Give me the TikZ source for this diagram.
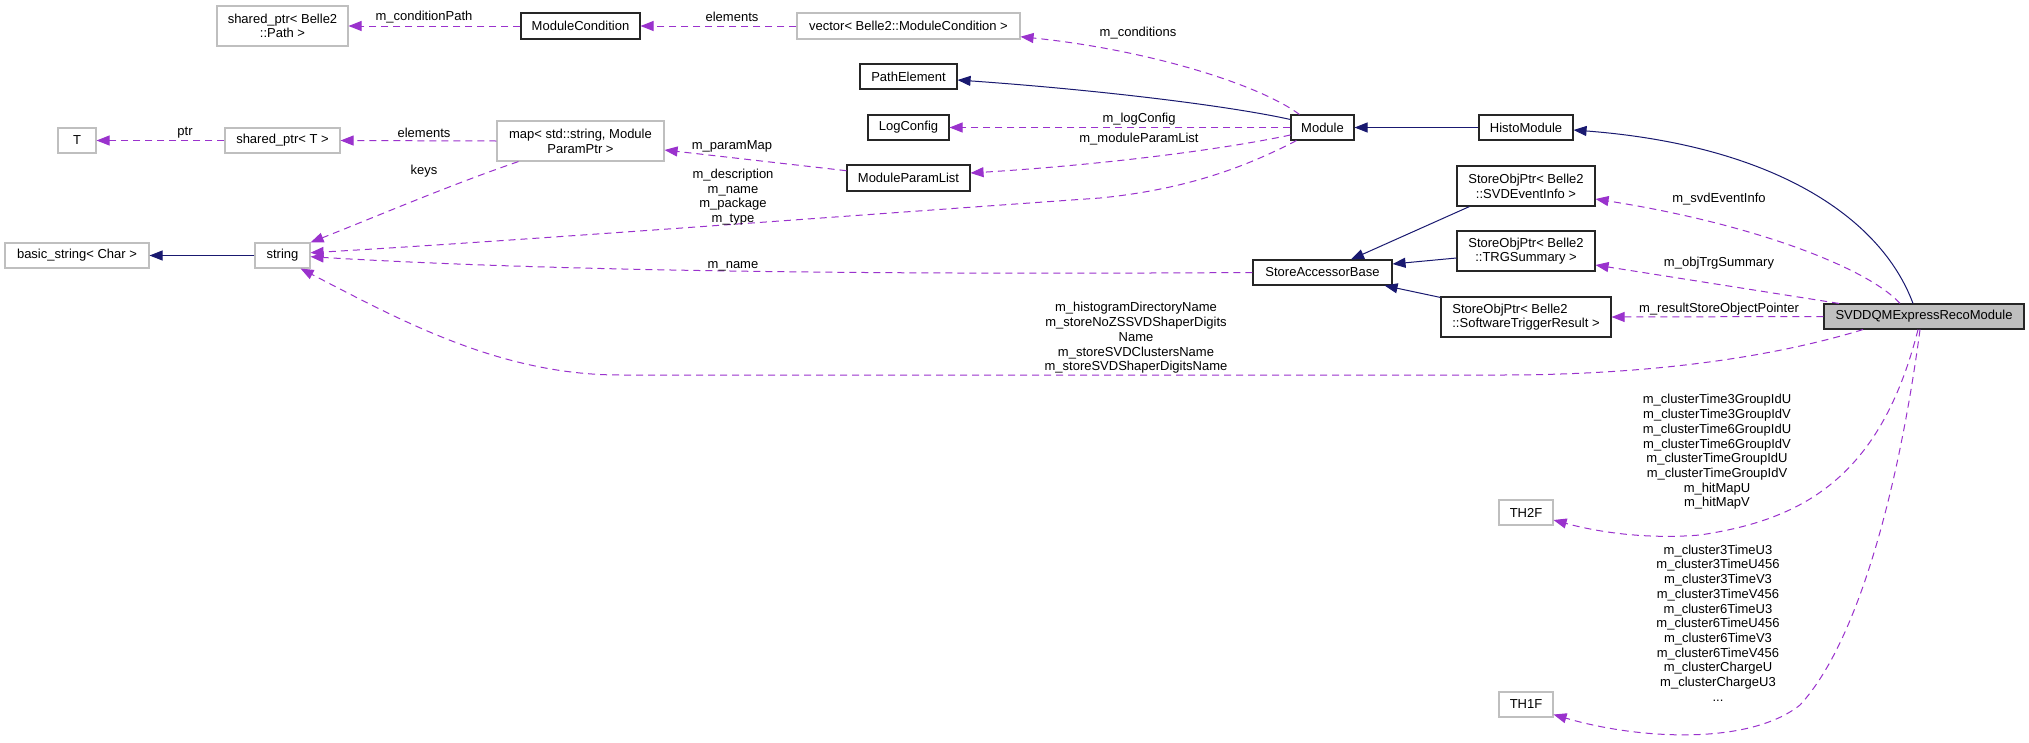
\documentclass[tikz,border=0pt]{standalone}
\usepackage{fontspec}
\setmainfont{Liberation Sans}
\usetikzlibrary{arrows.meta}
\definecolor{depcol}{HTML}{9A32CD}
\definecolor{inhcol}{HTML}{191970}
\definecolor{graycol}{HTML}{BFBFBF}
\newcommand{\dgfont}{\fontsize{13}{14.7}\selectfont}
\begin{document}
\begin{tikzpicture}[x=1pt,y=-1pt,
  box/.style={draw, line width=1.1pt, fill=white, inner sep=0pt, align=center, font=\dgfont},
  extbox/.style={box, draw=graycol},
  clsbox/.style={box, draw=black!85},
  lbl/.style={inner sep=0pt, align=center, font=\dgfont},
  dep/.style={draw=depcol, line width=1pt, dash pattern=on 7pt off 5pt, -{Triangle[length=13pt,width=10pt]}},
  inh/.style={draw=inhcol, line width=1pt, -{Triangle[length=13pt,width=10pt]}}]
\fill[white] (0,0) rectangle (2029,742);
\useasboundingbox (0,0) rectangle (2029,742);

% nodes
\node[extbox, minimum width=131pt, minimum height=40pt] (pathB) at (282.5,26) {shared\_ptr< Belle2\\::Path >};
\node[clsbox, minimum width=119pt, minimum height=26pt] (modcond) at (580.5,26) {ModuleCondition};
\node[extbox, minimum width=223pt, minimum height=26pt] (vec) at (908.5,26) {vector< Belle2::ModuleCondition >};
\node[extbox, minimum width=38pt, minimum height=25pt] (T) at (77,140.5) {T};
\node[extbox, minimum width=115pt, minimum height=25pt] (sptrT) at (282.5,140.5) {shared\_ptr< T >};
\node[extbox, minimum width=167pt, minimum height=40pt] (map) at (580.5,141) {map< std::string, Module\\ParamPtr >};
\node[extbox, minimum width=144pt, minimum height=25pt] (basic) at (77,255.5) {basic\_string< Char >};
\node[extbox, minimum width=55pt, minimum height=25pt] (string) at (282.5,255.5) {string};
\node[clsbox, minimum width=97pt, minimum height=25pt] (pathel) at (908.5,76.5) {PathElement};
\node[clsbox, minimum width=81pt, minimum height=25pt] (logcfg) at (908.5,127.5) {LogConfig};
\node[clsbox, minimum width=123pt, minimum height=26pt] (mpl) at (908.5,178) {ModuleParamList};
\node[clsbox, minimum width=63pt, minimum height=25pt] (module) at (1322.5,127.5) {Module};
\node[clsbox, minimum width=139pt, minimum height=25pt] (sab) at (1322.5,272.5) {StoreAccessorBase};
\node[clsbox, minimum width=94pt, minimum height=25pt] (histo) at (1526,127.5) {HistoModule};
\node[clsbox, minimum width=138pt, minimum height=40pt] (svdev) at (1526,186) {StoreObjPtr< Belle2\\::SVDEventInfo >};
\node[clsbox, minimum width=138pt, minimum height=40pt] (trg) at (1526,251) {StoreObjPtr< Belle2\\::TRGSummary >};
\node[clsbox, minimum width=170pt, minimum height=40pt, align=left] (swtr) at (1526,317) {StoreObjPtr< Belle2\\::SoftwareTriggerResult >};
\node[box, draw=black!85, fill=graycol, minimum width=200pt, minimum height=25pt] (svddqm) at (1924,316.5) {SVDDQMExpressRecoModule};
\node[extbox, minimum width=54pt, minimum height=25pt] (th2f) at (1526,512.5) {TH2F};
\node[extbox, minimum width=54pt, minimum height=25pt] (th1f) at (1526,704.5) {TH1F};

% connectors
\draw[dep] (modcond.west) -- (pathB.east);
\draw[dep] (vec.west) -- (modcond.east);
\draw[dep] ([xshift=9pt]module.north west) .. controls (1260,85) and (1150,50) .. ([yshift=-10.7pt]vec.east);
\draw[inh] ([yshift=8pt]module.west) .. controls (1230,106) and (1100,90) .. ([yshift=-3.5pt]pathel.east);
\draw[dep] (module.west) -- (logcfg.east);
\draw[dep] ([yshift=-7.5pt]module.west) .. controls (1220,150) and (1100,165) .. ([yshift=5pt]mpl.east);
\draw[dep] ([yshift=7.3pt]mpl.west) -- ([yshift=-9pt]map.east);
\draw[dep] (map.west) -- (sptrT.east);
\draw[dep] (sptrT.west) -- (T.east);
\draw[dep] ([xshift=22pt]map.south west) .. controls (450,185) and (380,215) .. (string.north east);
\draw[dep] ([xshift=6pt]module.south west) .. controls (1240,170) and (1180,190) .. (1100,198) .. controls (900,212) and (500,242) .. ([yshift=2.8pt]string.east);
\draw[dep] (sab.west) .. controls (700,276) and (450,265) .. ([yshift=-1.2pt]string.east);
\draw[inh] (string.west) -- (basic.east);
\draw[dep] ([xshift=-61pt]svddqm.south) .. controls (1780,355) and (1660,375) .. (1500,375) -- (620,375) .. controls (500,375) and (400,320) .. ([xshift=-10pt]string.south east);
\draw[inh] (histo.west) -- (module.east);
\draw[inh] ([xshift=-11pt]svddqm.north) .. controls (1880,215) and (1770,145) .. ([yshift=-2.5pt]histo.east);
\draw[inh] ([xshift=13pt]svdev.south west) -- ([xshift=28.5pt]sab.north);
\draw[inh] ([yshift=-7pt]trg.west) -- ([yshift=8.5pt]sab.east);
\draw[inh] ([yshift=-1pt]swtr.north west) -- ([xshift=-8pt]sab.south east);
\draw[dep] ([xshift=-24pt]svddqm.north) .. controls (1870,270) and (1760,225) .. ([yshift=-13pt]svdev.east);
\draw[dep] ([xshift=-85pt]svddqm.north) -- ([yshift=-14pt]trg.east);
\draw[dep] (svddqm.west) -- (swtr.east);
\draw[dep] ([xshift=-6pt]svddqm.south) .. controls (1880,480) and (1800,520) .. (1700,535) .. controls (1640,540) and (1590,530) .. ([yshift=-7.5pt]th2f.east);
\draw[dep] ([xshift=-4pt]svddqm.south) .. controls (1900,480) and (1860,640) .. (1800,705) .. controls (1750,745) and (1640,740) .. ([yshift=-10pt]th1f.east);

% labels
\node[lbl] (lcp) at (424,17) {m\_conditionPath};
\node[lbl] (lel1) at (732,17) {elements};
\node[lbl] (lcond) at (1138,33) {m\_conditions};
\node[lbl] (lptr) at (185,133) {ptr};
\node[lbl] (lel2) at (424,133) {elements};
\node[lbl] (lkeys) at (424,171) {keys};
\node[lbl] (lpm) at (732,146) {m\_paramMap};
\node[lbl] (llc) at (1139,119) {m\_logConfig};
\node[lbl] (lmpl) at (1139,139) {m\_moduleParamList};
\node[lbl] (ldesc) at (733,197) {m\_description\\m\_name\\m\_package\\m\_type};
\node[lbl] (lname) at (733,266) {m\_name};
\node[lbl] (lhist) at (1136,338) {m\_histogramDirectoryName\\m\_storeNoZSSVDShaperDigits\\Name\\m\_storeSVDClustersName\\m\_storeSVDShaperDigitsName};
\node[lbl] (lsvd) at (1719,199) {m\_svdEventInfo};
\node[lbl] (ltrg) at (1719,263) {m\_objTrgSummary};
\node[lbl] (lres) at (1719,309) {m\_resultStoreObjectPointer};
\node[lbl] (lth2) at (1717,452) {m\_clusterTime3GroupIdU\\m\_clusterTime3GroupIdV\\m\_clusterTime6GroupIdU\\m\_clusterTime6GroupIdV\\m\_clusterTimeGroupIdU\\m\_clusterTimeGroupIdV\\m\_hitMapU\\m\_hitMapV};
\node[lbl] (lth1) at (1718,623) {m\_cluster3TimeU3\\m\_cluster3TimeU456\\m\_cluster3TimeV3\\m\_cluster3TimeV456\\m\_cluster6TimeU3\\m\_cluster6TimeU456\\m\_cluster6TimeV3\\m\_cluster6TimeV456\\m\_clusterChargeU\\m\_clusterChargeU3\\...};
\end{tikzpicture}
\end{document}
